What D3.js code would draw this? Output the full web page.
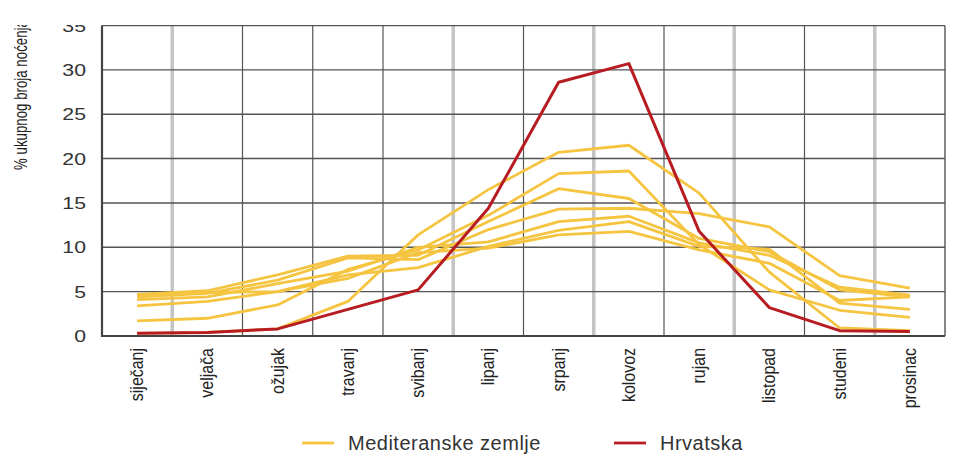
<!DOCTYPE html>
<html>
<head>
<meta charset="utf-8">
<script src="https://cdn.jsdelivr.net/npm/d3@7"></script>
<style>
  body { margin: 0; background: #fff; }
  svg { display: block; }
</style>
</head>
<body>
<div id="chart"></div>
<script>
const width = 955;
const height = 468;

// mjeseci
const months = ["siječanj", "veljača", "ožujak", "travanj", "svibanj", "lipanj",
  "srpanj", "kolovoz", "rujan", "listopad", "studeni", "prosinac"];

const yTicks = [0, 5, 10, 15, 20, 25, 30, 35];

// Hrvatska
const hrvatska = [0.3, 0.4, 0.8, 3.0, 5.2, 14.4, 28.6, 30.7, 11.8, 3.2, 0.6, 0.5];

// Mediteranske zemlje (7 zemalja)
const med1 = [0.3, 0.4, 0.8, 3.9, 11.4, 16.5, 20.7, 21.5, 16.1, 7.2, 0.9, 0.6];
const med2 = [1.7, 2.0, 3.5, 7.5, 9.7, 13.6, 18.3, 18.6, 10.3, 5.2, 2.9, 2.1];
const med3 = [4.7, 5.1, 6.9, 9.0, 9.1, 12.9, 16.6, 15.5, 11.0, 9.5, 5.2, 4.4];
const med4 = [4.4, 4.8, 6.3, 8.8, 8.6, 12.0, 14.3, 14.4, 13.8, 12.3, 6.8, 5.4];
const med5 = [4.1, 4.4, 5.9, 7.3, 10.0, 10.6, 12.9, 13.5, 10.5, 9.1, 5.5, 4.6];
const med6 = [3.4, 3.9, 5.0, 6.9, 7.7, 10.1, 11.9, 12.9, 10.1, 9.8, 3.7, 3.0];
const med7 = [4.6, 4.9, 5.0, 6.5, 9.4, 9.9, 11.4, 11.8, 9.7, 8.2, 4.0, 4.4];
const mediteran = [med1, med2, med3, med4, med5, med6, med7];

const yellow = "#f5c440";
const red = "#b61c22";

const x = d3.scaleBand().domain(months).range([102, 945]).padding(0);
const xc = m => x(m) + x.bandwidth() / 2;
const y = d3.scaleLinear().domain([0, 35]).range([336, 25.5]);

const svg = d3.create("svg")
    .attr("width", width)
    .attr("height", height)
    .style("font-family", "'Liberation Sans', Arial, sans-serif");

// vertikalne linije (naizmjence svijetle i tamne)
const lightIdx = [1, 5, 7, 9, 11];
svg.append("g")
  .selectAll("line")
  .data(months.slice(1))
  .join("line")
    .attr("x1", d => x(d)).attr("x2", d => x(d))
    .attr("y1", y(35)).attr("y2", y(0))
    .attr("stroke", (d, i) => lightIdx.includes(i + 1) ? "#c4c4c4" : "#555")
    .attr("stroke-width", (d, i) => lightIdx.includes(i + 1) ? 3.5 : 1.2);

// horizontalne linije
svg.append("g")
  .selectAll("line")
  .data(yTicks.slice(1))
  .join("line")
    .attr("x1", 102).attr("x2", 945)
    .attr("y1", d => y(d)).attr("y2", d => y(d))
    .attr("stroke", "#555")
    .attr("stroke-width", 1.4);

// desni rub
svg.append("line")
    .attr("x1", 945).attr("x2", 945)
    .attr("y1", y(35)).attr("y2", y(0))
    .attr("stroke", "#555").attr("stroke-width", 1.4);

const line = d3.line()
    .x((d, i) => xc(months[i]))
    .y(d => y(d));

svg.append("g")
  .selectAll("path")
  .data(mediteran)
  .join("path")
    .attr("d", line)
    .attr("fill", "none")
    .attr("stroke", yellow)
    .attr("stroke-width", 2.8)
    .attr("stroke-linejoin", "round");

svg.append("path")
    .datum(hrvatska)
    .attr("d", line)
    .attr("fill", "none")
    .attr("stroke", red)
    .attr("stroke-width", 3)
    .attr("stroke-linejoin", "round");

// osi
svg.append("line")
    .attr("x1", 102).attr("x2", 102)
    .attr("y1", y(35)).attr("y2", y(0) + 1)
    .attr("stroke", "#444").attr("stroke-width", 2.2);
svg.append("line")
    .attr("x1", 101).attr("x2", 945)
    .attr("y1", y(0)).attr("y2", y(0))
    .attr("stroke", "#444").attr("stroke-width", 2.2);

// oznake y osi (široki font)
svg.append("g")
  .selectAll("text")
  .data(yTicks)
  .join("text")
    .attr("transform", d => `translate(86,${y(d)}) scale(1.25,1)`)
    .attr("dy", "0.36em")
    .attr("text-anchor", "end")
    .attr("fill", "#333")
    .style("font-size", "17px")
    .text(d => d);

// naslov y osi (uski font)
svg.append("text")
    .attr("transform", "translate(27,170) rotate(-90) scale(0.7,1)")
    .attr("fill", "#222")
    .style("font-size", "19px")
    .text("% ukupnog broja noćenja");

// oznake mjeseci
svg.append("g")
  .selectAll("text")
  .data(months)
  .join("text")
    .attr("transform", d => `translate(${xc(d) + 6},348) rotate(-90) scale(0.84,1)`)
    .attr("text-anchor", "end")
    .attr("fill", "#222")
    .style("font-size", "19px")
    .text(d => d);

// legenda
const legend = [
  {name: "Mediteranske zemlje", color: yellow, x: 302},
  {name: "Hrvatska", color: red, x: 614}
];
const lg = svg.append("g")
  .selectAll("g")
  .data(legend)
  .join("g")
    .attr("transform", d => `translate(${d.x},443)`);
lg.append("line")
    .attr("x1", 0).attr("x2", 32)
    .attr("stroke", d => d.color).attr("stroke-width", 2.8);
lg.append("text")
    .attr("x", 46)
    .attr("dy", "0.35em")
    .attr("fill", "#333")
    .style("font-size", "20px")
    .style("letter-spacing", "0.5px")
    .text(d => d.name);

// gornji dio slike je odrezan
svg.append("rect")
    .attr("x", 0).attr("y", 0)
    .attr("width", width).attr("height", 25)
    .attr("fill", "#fff");

document.getElementById("chart").appendChild(svg.node());
</script>
</body>
</html>
